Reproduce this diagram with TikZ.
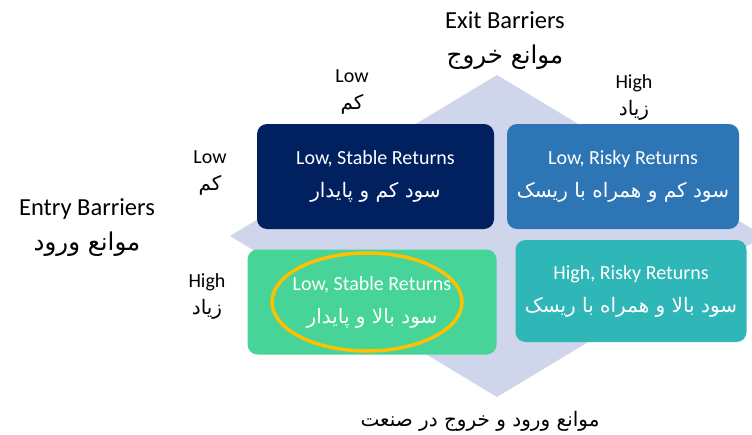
\documentclass[tikz,border=0pt]{standalone}
\usepackage{fontspec}
\setmainfont{Carlito}
\newfontfamily\farsi[Script=Arabic]{DejaVu Sans}
\TeXXeTstate=1
\usetikzlibrary{shapes.geometric, positioning}

\definecolor{navy}{HTML}{002060}
\definecolor{steel}{HTML}{2E75B6}
\definecolor{mint}{HTML}{47D498}
\definecolor{teal}{HTML}{2FB6B6}
\definecolor{lavender}{HTML}{CFD5EA}
\definecolor{gold}{HTML}{FFC000}

\newcommand{\fa}[1]{{\farsi\beginR #1\endR}}

\begin{document}
\begin{tikzpicture}[
    x=1pt, y=-1pt,
    every node/.style={align=center, inner sep=0pt, font=\fontsize{20}{27}\selectfont},
    title/.style={font=\fontsize{24.5}{35}\selectfont},
    level/.style={font=\fontsize{20}{27}\selectfont},
    quad/.style={rounded corners=10pt, text=white, font=\fontsize{20}{33}\selectfont},
    highlight/.style={draw=gold, line width=3.5pt, ellipse, minimum width=190pt, minimum height=98pt}
  ]
  \useasboundingbox (0,0) rectangle (752,434);
  \clip (0,0) rectangle (752,434);

  % background diamond
  \fill[lavender] (497,75) -- (764,236) -- (497,397) -- (230,236) -- cycle;

  % the four quadrants
  \node[quad, fill=navy, minimum width=237pt, minimum height=105pt] (lowstable) at (375.5,176.5)
    {Low, Stable Returns\\\fa{سود کم و پایدار}};
  \node[quad, fill=steel, minimum width=232pt, minimum height=105pt] (lowrisky) at (623,176.5)
    {Low, Risky Returns\\\fa{سود کم و همراه با ریسک}};
  \node[quad, fill=mint, minimum width=249pt, minimum height=105pt] (highstable) at (372,302)
    {Low, Stable Returns\\\fa{سود بالا و پایدار}};
  \node[quad, fill=teal, minimum width=231pt, minimum height=102pt] (highrisky) at (631,291)
    {High, Risky Returns\\\fa{سود بالا و همراه با ریسک}};

  \node[highlight] (best) at (367,302) {};

  % axis titles
  \node[title] (exit) at (505,40.5) {Exit Barriers\\\fa{موانع خروج}};
  \node[title] (entry) at (87,228) {Entry Barriers\\\fa{موانع ورود}};
  \node[title, font=\fontsize{20}{24}\selectfont] (caption) at (480,421) {\fa{موانع ورود و خروج در صنعت}};

  % levels
  \node[level] (exitlow) at (352,92) {Low\\\fa{کم}};
  \node[level] (exithigh) at (634,97) {High\\\fa{زیاد}};
  \node[level] (entrylow) at (210,173) {Low\\\fa{کم}};
  \node[level] (entryhigh) at (207,296) {High\\\fa{زیاد}};
\end{tikzpicture}
\end{document}
